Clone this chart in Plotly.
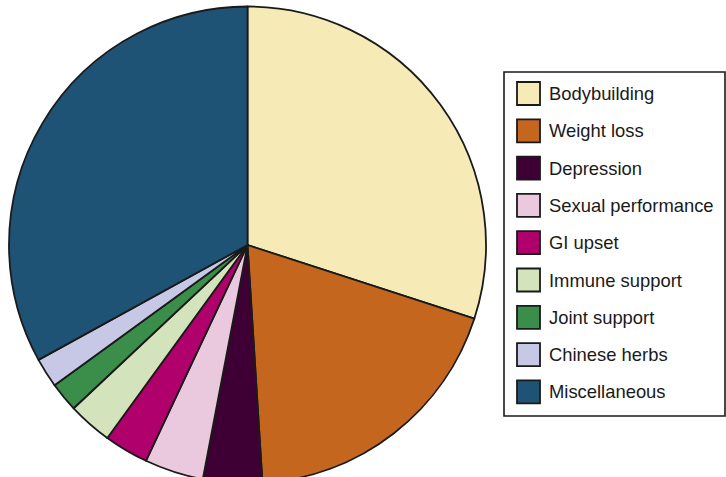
import plotly.graph_objects as go

categories = ["Bodybuilding", "Weight loss", "Depression", "Sexual performance",
              "GI upset", "Immune support", "Joint support", "Chinese herbs",
              "Miscellaneous"]
values = [30, 19, 4, 4, 3, 3, 2, 2, 33]
colors = ["#F6EBB7", "#C5661F", "#3E0034", "#EAC9DF", "#B0006B",
          "#D3E3BB", "#3A8E4A", "#C6C8E6", "#1F5376"]

W, H = 726, 490
cx, cy, r = 247.5, 245, 238.5

def px(x):
    return x / W

def py(y):
    return 1 - y / H

fig = go.Figure()
fig.add_trace(go.Pie(
    labels=categories, values=values, sort=False, direction="clockwise",
    rotation=0, textinfo="none", hoverinfo="label+percent",
    marker=dict(colors=colors, line=dict(color="#1a1a1a", width=1.8)),
    domain=dict(x=[px(cx - r), px(cx + r)], y=[py(cy + r), py(cy - r)]),
    showlegend=False,
))

shapes = [dict(type="rect", xref="paper", yref="paper",
               x0=px(504), x1=px(725), y0=py(416), y1=py(72),
               line=dict(color="#1a1a1a", width=1.6), fillcolor="white")]
annotations = []
for i, (lab, col) in enumerate(zip(categories, colors)):
    yc = 93.5 + 37.3 * i
    shapes.append(dict(type="rect", xref="paper", yref="paper",
                       x0=px(517), x1=px(540), y0=py(yc + 11.5), y1=py(yc - 11.5),
                       line=dict(color="#1a1a1a", width=1.8), fillcolor=col))
    annotations.append(dict(xref="paper", yref="paper", x=px(547), y=py(yc),
                            xanchor="left", yanchor="middle", text=lab,
                            showarrow=False,
                            font=dict(family="Liberation Sans, Arial", size=18.4,
                                      color="#1a1a1a")))

fig.update_layout(width=W, height=H, margin=dict(l=0, r=0, t=0, b=0),
                  paper_bgcolor="white", plot_bgcolor="white",
                  shapes=shapes, annotations=annotations)
fig.write_html("out.html", config={"displayModeBar": False},
               post_script="document.body.style.margin='0';document.body.style.overflow='hidden';")
